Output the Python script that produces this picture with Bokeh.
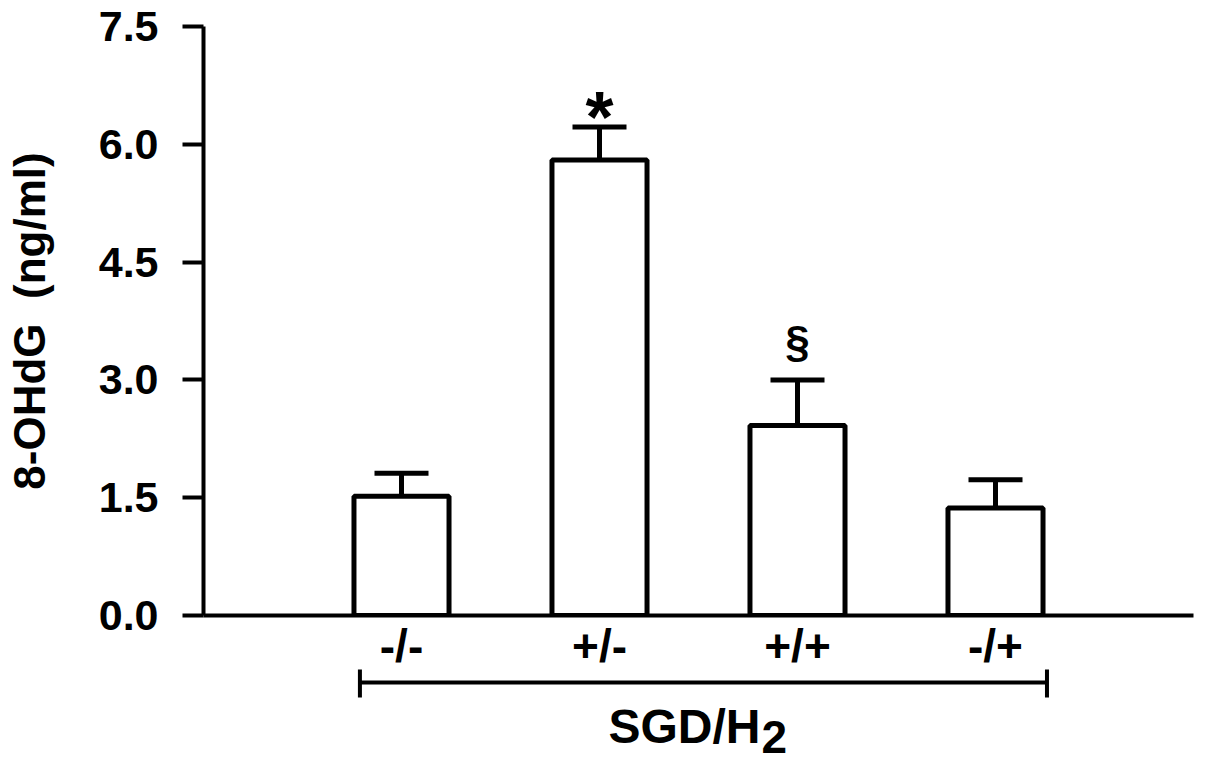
from bokeh.plotting import figure
from bokeh.models import Range1d, FixedTicker, PrintfTickFormatter, Whisker, TeeHead, ColumnDataSource
from bokeh.layouts import column
from bokeh.embed import file_html
from bokeh.resources import INLINE
from bokeh.core.properties import value

# ---- data ----
categories = ["-/-", "+/-", "+/+", "-/+"]
means = [1.52, 5.80, 2.42, 1.37]
sem = [0.29, 0.42, 0.58, 0.36]
marks = ["", "*", "\u00a7", ""]
y_ticks = [0.0, 1.5, 3.0, 4.5, 6.0, 7.5]
y_label = "8-OHdG \u00a0(ng/ml)"
group_label = "SGD/H"
group_sub = "2"

FONT = "Liberation Sans"
W = 1197

xpos = [i + 1 for i in range(len(categories))]
upper = [m + s for m, s in zip(means, sem)]
src = ColumnDataSource(dict(x=xpos, top=means, upper=upper, cat=categories))

# ---- main plot ----
p = figure(width=W, height=674, x_range=Range1d(0, len(categories) + 1),
           y_range=Range1d(0, 7.5),
           output_backend="svg", toolbar_location=None,
           min_border_left=203, min_border_right=4, min_border_top=26, min_border_bottom=56)
p.outline_line_color = None
p.grid.visible = False
p.background_fill_color = "white"
p.border_fill_color = "white"

yax = p.yaxis[0]
yax.ticker = FixedTicker(ticks=y_ticks)
yax.formatter = PrintfTickFormatter(format="%.1f")
yax.axis_line_width = 4
yax.axis_line_color = "black"
yax.major_tick_line_width = 4
yax.major_tick_line_color = "black"
yax.major_tick_out = 21
yax.major_tick_in = 0
yax.minor_tick_line_color = None
yax.major_label_text_font = FONT
yax.major_label_text_font_size = "43px"
yax.major_label_text_font_style = "bold"
yax.major_label_text_color = "black"
yax.major_label_standoff = 24
yax.axis_label = y_label
yax.axis_label_text_font = FONT
yax.axis_label_text_font_size = "44px"
yax.axis_label_text_font_style = "bold"
yax.axis_label_text_color = "black"
yax.axis_label_standoff = 42

xax = p.xaxis[0]
xax.ticker = FixedTicker(ticks=xpos)
xax.major_label_overrides = {x: c for x, c in zip(xpos, categories)}
xax.axis_line_width = 4
xax.axis_line_color = "black"
xax.major_tick_line_color = None
xax.major_tick_out = 0
xax.major_tick_in = 0
xax.minor_tick_line_color = None
xax.major_label_text_font = FONT
xax.major_label_text_font_size = "46px"
xax.major_label_text_font_style = "bold"
xax.major_label_text_color = "black"
xax.major_label_standoff = 4

p.vbar(x="x", top="top", bottom=0, width=0.48, source=src,
       fill_color="white", line_color="black", line_width=5)

p.add_layout(Whisker(source=src, base="x", lower="top", upper="upper", dimension="height",
                     line_color="black", line_width=5, level="glyph",
                     upper_head=TeeHead(size=54, line_width=5, line_color="black"),
                     lower_head=None))

star_i = [i for i, m in enumerate(marks) if m == "*"]
sec_i = [i for i, m in enumerate(marks) if m not in ("", "*")]
p.text(x=[xpos[i] for i in star_i], y=[upper[i] for i in star_i], text=[marks[i] for i in star_i],
       text_font=value(FONT), text_font_size="72px", text_font_style="bold",
       text_align="center", text_baseline="alphabetic", y_offset=-10, text_color="black")
p.text(x=[xpos[i] for i in sec_i], y=[upper[i] for i in sec_i], text=[marks[i] for i in sec_i],
       text_font=value(FONT), text_font_size="44px", text_font_style="bold",
       text_align="center", text_baseline="alphabetic", y_offset=-38, text_color="black")

# ---- lower panel: bracket and group label ----
HB = 102
q = figure(width=W, height=HB, x_range=p.x_range, y_range=Range1d(HB, 0),
           output_backend="svg", toolbar_location=None, x_axis_type=None, y_axis_type=None,
           min_border_left=203, min_border_right=4, min_border_top=0, min_border_bottom=0)
q.outline_line_color = None
q.grid.visible = False
q.background_fill_color = None
q.border_fill_color = None
q.margin = (-14, 0, 0, 0)

bx0 = xpos[0] - 0.21
bx1 = xpos[-1] + 0.26
q.segment(x0=[bx0], y0=[22], x1=[bx1], y1=[22], line_color="black", line_width=4)
q.segment(x0=[bx0, bx1], y0=[9, 9], x1=[bx0, bx1], y1=[37, 37], line_color="black", line_width=4)

xc = (xpos[0] + xpos[-1]) / 2
q.text(x=[xc], y=[66], text=[group_label], text_font=value(FONT), text_font_size="48px",
       text_font_style="bold", text_align="right", text_baseline="alphabetic",
       x_offset=62, text_color="black")
q.text(x=[xc], y=[76], text=[group_sub], text_font=value(FONT), text_font_size="46px",
       text_font_style="bold", text_align="left", text_baseline="alphabetic",
       x_offset=63, text_color="black")

layout = column(p, q, spacing=0)
open("out.html", "w").write(file_html(layout, INLINE))
